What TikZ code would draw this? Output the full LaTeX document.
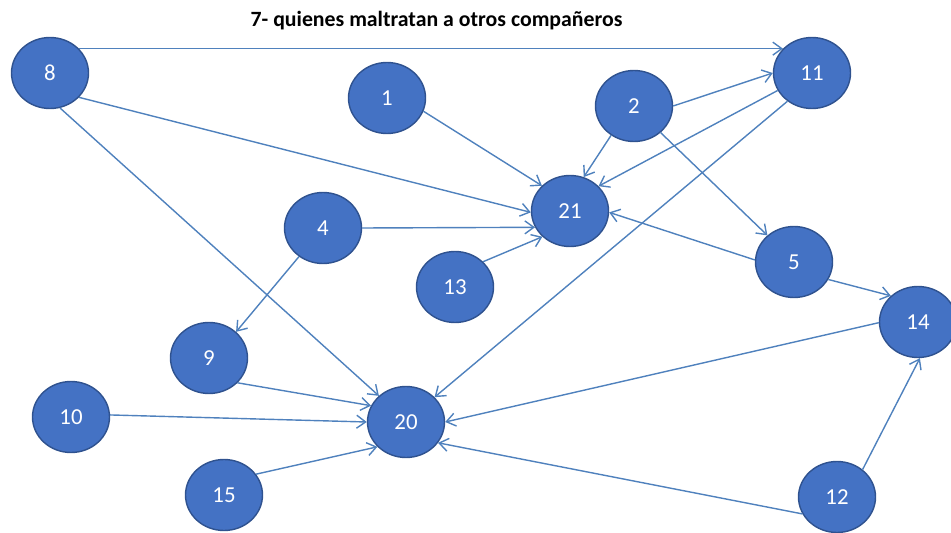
\documentclass[tikz,border=0pt]{standalone}
\usepackage{fontspec}
\setmainfont{Carlito}
\usepackage{tikz}
\usetikzlibrary{arrows.meta,shapes.geometric}
\definecolor{nodefill}{RGB}{68,114,196}
\definecolor{nodeline}{RGB}{47,82,143}
\definecolor{edgeline}{RGB}{79,129,189}

\begin{document}
\begin{tikzpicture}[
  alumno/.style={ellipse, draw=nodeline, fill=nodefill, line width=0.8pt, inner sep=0pt, minimum width=15.4mm, minimum height=14.2mm, text=white, font=\fontsize{13}{15}\selectfont},
  arr/.style={-{Straight Barb[length=1.8mm, width=2.6mm]}, edgeline, line width=0.8pt}]
\useasboundingbox (0,0) rectangle (19.02,-10.66);
\node[font=\bfseries\fontsize{12.4}{14}\selectfont] (titulo) at (8.73,-0.42) {7- quienes maltratan a otros compañeros};
% fila superior
\node[alumno] (n8)  at (1.00,-1.46)  {8};
\node[alumno] (n1)  at (7.74,-1.96)  {1};
\node[alumno] (n2)  at (12.68,-2.12) {2};
\node[alumno] (n11) at (16.24,-1.46) {11};
% centro
\node[alumno] (n21) at (11.40,-4.22) {21};
\node[alumno] (n4)  at (6.46,-4.56)  {4};
\node[alumno] (n13) at (9.10,-5.74)  {13};
\node[alumno] (n5)  at (15.88,-5.24) {5};
\node[alumno] (n14) at (18.36,-6.44) {14};
% fila inferior
\node[alumno] (n9)  at (4.18,-7.16)  {9};
\node[alumno] (n10) at (1.42,-8.34)  {10};
\node[alumno] (n20) at (8.12,-8.44)  {20};
\node[alumno] (n15) at (4.48,-9.90)  {15};
\node[alumno] (n12) at (16.74,-9.94) {12};
% flechas
\draw[arr] (n8.40)   -- (n11.140);
\draw[arr] (n8.320)  -- (n21.182);
\draw[arr] (n8.286)  -- (n20.136);
\draw[arr] (n1.340)  -- (n21.138);
\draw[arr] (n2.0)    -- (n11.180);
\draw[arr] (n2.232)  -- (n21.68);
\draw[arr] (n2.315)  -- (n5.135);
\draw[arr] (n11.207) -- (n21.41);
\draw[arr] (n11.229) -- (n20.41);
\draw[arr] (n4.0)    -- (n21.205);
\draw[arr] (n4.230)  -- (n9.44);
\draw[arr] (n13.42)  -- (n21.223);
\draw[arr] (n5.177)  -- (n21.358);
\draw[arr] (n5.333)  -- (n14.136);
\draw[arr] (n14.181) -- (n20.0);
\draw[arr] (n12.47)  -- (n14.273);
\draw[arr] (n12.206) -- (n20.327);
\draw[arr] (n9.319)  -- (n20.155);
\draw[arr] (n10.3)   -- (n20.180);
\draw[arr] (n15.33)  -- (n20.221);
\end{tikzpicture}
\end{document}
